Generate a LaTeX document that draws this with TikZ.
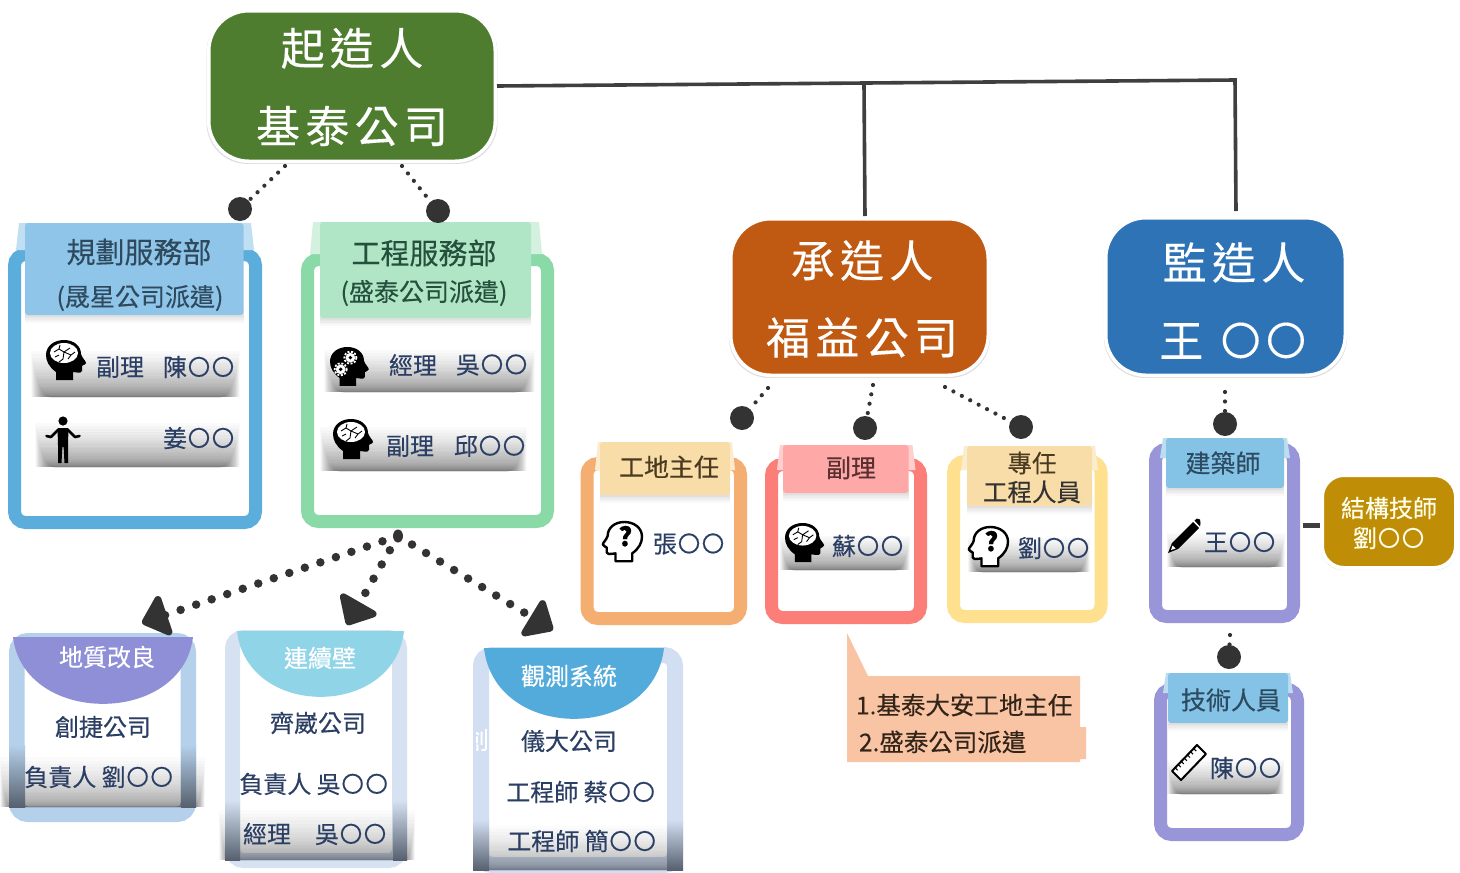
\documentclass[tikz,border=0pt]{standalone}
\usepackage{fontspec}
\setmainfont[FakeBold=0.3]{Noto Sans CJK TC}
\newfontfamily\spacedfont[LetterSpace=12,FakeBold=0.3]{Noto Sans CJK TC}
\usetikzlibrary{arrows.meta,shadows}
\definecolor{navytxt}{HTML}{2B3E63}
\definecolor{linegray}{HTML}{3F3F3F}
\definecolor{dotblack}{HTML}{333333}
\definecolor{HTMLgreen}{HTML}{4F7D2F}
\definecolor{HTMLorange}{HTML}{C05A12}
\definecolor{HTMLblue}{HTML}{2E73B5}
\definecolor{HTMLgold}{HTML}{BF8E06}
\definecolor{HTMLfa}{HTML}{5BAEDC}
\definecolor{HTMLfb}{HTML}{8ADAA8}
\definecolor{HTMLfc}{HTML}{F4AE72}
\definecolor{HTMLfd}{HTML}{FB7E78}
\definecolor{HTMLfe}{HTML}{FFE08F}
\definecolor{HTMLff}{HTML}{9896D8}
\definecolor{HTMLfh}{HTML}{B5D0EA}
\definecolor{HTMLfi}{HTML}{D6E2F2}
\definecolor{HTMLfj}{HTML}{D2DEF2}
\definecolor{HTMLta}{HTML}{8FC5E8}
\definecolor{HTMLtb}{HTML}{B0E6C6}
\definecolor{HTMLtc}{HTML}{F9DDA8}
\definecolor{HTMLtd}{HTML}{FFA8A8}
\definecolor{HTMLtf}{HTML}{84C2E6}
\definecolor{HTMLda}{HTML}{2F4A5F}
\definecolor{HTMLdb}{HTML}{25503C}
\definecolor{HTMLdc}{HTML}{4A3A20}
\definecolor{HTMLdd}{HTML}{5A3030}
\definecolor{HTMLdf}{HTML}{2C4A60}
\definecolor{HTMLdk}{HTML}{33241A}
\definecolor{HTMLcall}{HTML}{F8C4A4}
\definecolor{HTMLsh}{HTML}{56606E}
\definecolor{HTMLch}{HTML}{8F8FD8}
\definecolor{HTMLci}{HTML}{90D4E8}
\definecolor{HTMLcj}{HTML}{52ABDB}
\newcommand\fz[1]{\fontsize{#1}{#1}\selectfont}
\newcommand\Oo{\makebox[1em]{\raisebox{.03em}{\scalebox{.93}{〇}}}}
\newcommand\OoB{\makebox[1.03em]{\raisebox{.04em}{\scalebox{.9}{〇}}}}
\newcommand\dnB[2]{\vphantom{#2}\smash{\raisebox{-#1}{#2}}}
% frame: name x1 y1 x2 y2 colour width
\newcommand\frameB[7]{\node[draw=#6,fill=white,line width=#7pt,rounded corners=11pt,inner sep=0pt,
  minimum width={(#4-#2-#7)*1pt},minimum height={(#5-#3-#7)*1pt}] (#1) at ({(#2+#4)/2},{(#3+#5)/2}) {};}
% band: x1 x2 ybot height inset opacity
\newcommand\bandB[6]{\foreach \i in {0,...,39}{
  \pgfmathsetmacro\tp{#3-(#4)*(1-\i/40)*(1-\i/40)*(1-\i/40)}
  \fill[black,opacity=#6] ({#1+\i*#5},\tp) rectangle ({#2-\i*#5},#3);}}
% tab: name x1 x2 fx1 fx2 y1 y2 flapbottom colour
\newcommand\tabB[9]{\foreach \i in {1,...,5}{\fill[black,opacity=.025] (#2,#7-4) rectangle (#3,{#7+\i*1.6});}
  \fill[#9!55!white] (#4,#8) -- ({#4+3},#6) -- ({#5-3},#6) -- (#5,#8) -- cycle;
  \node[fill=#9,inner sep=0pt,rounded corners=3pt,minimum width={(#3-#2)*1pt},minimum height={(#7-#6)*1pt}] (#1) at ({(#2+#3)/2},{(#6+#7)/2}) {};}
% half disc
\newcommand\capB[5]{\fill[#5] (#1,#2) .. controls ({#1+.06*(#3-#1)},{#2+1.33*(#4-#2)}) and ({#3-.06*(#3-#1)},{#2+1.33*(#4-#2)}) .. (#3,#2) -- cycle;}
\newcommand\headpath{(10,40) -- (10,32) .. controls (3,27) and (0,21) .. (0,15) .. controls (0,6) and (8,0) .. (18,0) .. controls (28,0) and (35,6) .. (35,14) .. controls (36,18) and (40,21) .. (40,23) .. controls (40,25) and (36,25) .. (36,26) -- (36,31) .. controls (36,33) and (34,33) .. (27,32) -- (27,40) -- cycle}
\newcommand\brainhead[3]{\begin{scope}[shift={(#1,#2)},scale=#3]
  \fill[black] \headpath;
  \fill[white] (18,13) ellipse [x radius=14,y radius=10];
  \draw[black,line width=.9pt] (8,12) -- (13,9) -- (18,12) -- (24,8) (13,9) -- (14,5) (18,12) -- (17,19) -- (13,22) (18,12) -- (25,15) -- (29,12) (9,17) -- (13,15) (22,19) -- (25,15);
\end{scope}}
\newcommand\gearhead[3]{\begin{scope}[shift={(#1,#2)},scale=#3]
  \fill[black] \headpath;
  \foreach \cx/\cy/\r in {21/11/5,11/23/5}{
    \draw[white,line width=1.8pt,dash pattern=on 2pt off 1.6pt] (\cx,\cy) circle [radius=\r+1.2];
    \fill[white] (\cx,\cy) circle [radius=\r];
    \fill[black] (\cx,\cy) circle [radius=2];}
\end{scope}}
\newcommand\askhead[4]{\begin{scope}[shift={({#1+38},#2)},xscale=-#3,yscale=#3]
  \draw[black,line width=2.4pt,fill=white,line join=round] \headpath;
  \node[inner sep=0pt,font=\fz{26}\bfseries,text=black] (#4) at (17,14.5) {?};
\end{scope}}
\begin{document}
\begin{tikzpicture}[x=1pt,y=-1pt,
  mainbox/.style={draw=white,line width=3.5pt,rounded corners=40pt,inner sep=0pt,align=center,text=white,
    drop shadow={opacity=.26,shadow scale=1.015,shadow xshift=0pt,shadow yshift=-1.5pt}},
  lab/.style={inner sep=0pt,outer sep=0pt,text=navytxt,font=\fz{24}},
  hdr/.style={inner sep=0pt,outer sep=0pt,align=center},
  solidline/.style={draw=linegray,line width=3.6pt},
  dotline/.style={draw=dotblack,line width=4.2pt,line cap=round,dash pattern=on 0pt off 9.5pt},
  bigdot/.style={draw=dotblack,line width=8.5pt,line cap=round,dash pattern=on 0pt off 16.4pt,
    -{Triangle[length=28pt,width=48pt,fill=dotblack,round=false]}},
  ball/.style={circle,fill=dotblack,inner sep=0pt,minimum size=24pt}]
\useasboundingbox (0,0) rectangle (1460,873);
\fill[white] (0,0) rectangle (1460,873);

% ---------- main nodes
\node[mainbox,fill=HTMLgreen,minimum width=286.5pt,minimum height=150.5pt,
  font={\fontsize{44}{78}\selectfont\spacedfont}] (qi) at (352,86) {\dnB{1pt}{起造人}\\\dnB{1pt}{基泰公司}};
\node[mainbox,fill=HTMLorange,minimum width=257.5pt,minimum height=156.5pt,
  font={\fontsize{44}{77}\selectfont\spacedfont}] (cheng) at (859.5,297) {\hspace*{5pt}\dnB{2pt}{承造人}\\\hspace*{5pt}\dnB{2pt}{福益公司}};
\node[mainbox,fill=HTMLblue,minimum width=239.5pt,minimum height=157.5pt,
  font={\fontsize{44}{78}\selectfont\spacedfont}] (jian) at (1225.5,296.5) {\hspace*{17pt}\dnB{4pt}{監造人}\\\hspace*{17pt}\dnB{4pt}{王\,\,\OoB\OoB}};
\node[mainbox,fill=HTMLgold,rounded corners=22pt,line width=4pt,minimum width=134pt,minimum height=93pt,
  text=white!92!yellow,font={\fontsize{24}{30}\selectfont}] (jie) at (1389,521.5) {\dnB{1.5pt}{結構技師}\\\dnB{1.5pt}{劉\Oo\Oo}};

% ---------- solid connectors
\coordinate (busE) at (1235,80);
\coordinate (jianTop) at (1236,211);
\coordinate (busM) at (864,84.5);
\coordinate (chengTop) at (865,216);
\draw[solidline,line join=miter] (qi.east) -- (busE) -- (jianTop);
\draw[solidline] (busM) -- (chengTop);

% ---------- frames row 1
\frameB{fA}{8}{248}{262}{529}{HTMLfa}{13}
\frameB{fB}{301}{253}{554}{528}{HTMLfb}{13}
\bandB{31}{240}{397}{46}{.55}{.02}
\bandB{35}{240}{467}{44}{.55}{.02}
\bandB{324}{535}{392}{42}{.55}{.02}
\bandB{320}{527}{471}{44}{.55}{.02}
\tabB{tA}{25}{243.5}{16}{254}{223}{315}{250}{HTMLta}
\tabB{tB}{320}{531}{310}{542}{222}{318}{254}{HTMLtb}
\node[hdr,text=HTMLda,font=\fz{29}] (hA1) at (139,252) {規劃服務部};
\node[hdr,text=HTMLda,font=\fz{25}] (hA2) at (140,298) {(晟星公司派遣)};
\node[hdr,text=HTMLdb,font=\fz{29}] (hB1) at (424,253) {工程服務部};
\node[hdr,text=HTMLdb,font=\fz{25}] (hB2) at (424,293) {(盛泰公司派遣)};
\brainhead{46}{340}{1}
\node[lab] (l1) at (120,367) {副理};
\node[lab] (l2) at (199,367) {陳\Oo\Oo};
\node[lab] (l3) at (199,438) {姜\Oo\Oo};
\gearhead{330}{347}{.97}
\node[lab] (l4) at (413,365) {經理};
\node[lab] (l5) at (492,365) {吳\Oo\Oo};
\brainhead{333}{419}{1}
\node[lab] (l6) at (410,446) {副理};
\node[lab] (l7) at (490,446) {邱\Oo\Oo};
% person
\fill[black] (63,421) circle [radius=4.6];
\fill[black] (57.5,428) -- (68.5,428) -- (68,445) -- (68,463) -- (64.5,463) -- (63.6,447) -- (62.4,447) -- (61.5,463) -- (58,463) -- (58,445) -- cycle;
\draw[black,line width=2.6pt,line cap=round,line join=round] (46.5,436) -- (51,437) -- (58,430) (79.5,436) -- (75,437) -- (68,430);

% ---------- contractor frames
\frameB{fC}{580.5}{457}{747}{625}{HTMLfc}{13}
\frameB{fD}{765}{458}{927}{624}{HTMLfd}{13}
\frameB{fE}{947}{455}{1107.5}{623}{HTMLfe}{13}
\bandB{780}{910}{570}{34}{.4}{.02}
\bandB{968}{1090}{572}{34}{.4}{.02}
\tabB{tC}{600}{730}{595}{735}{442}{495}{470}{HTMLtc}
\tabB{tD}{783}{908.5}{777}{915.5}{445}{493}{470}{HTMLtd}
\tabB{tE}{967}{1092}{961}{1098}{446}{506}{470}{HTMLtc}
\node[hdr,text=HTMLdc,font=\fz{25}] (hC) at (669,467) {工地主任};
\node[hdr,text=HTMLdd,font=\fz{25}] (hD) at (851,468) {副理};
\node[hdr,text=HTMLdc,font=\fz{24.5}] (hE1) at (1032,463) {專任};
\node[hdr,text=black!80,font=\fz{24.5}] (hE2) at (1032,492) {工程人員};
\askhead{604}{522}{.98}{qa}
\node[lab] (l8) at (689,544) {張\Oo\Oo};
\brainhead{785}{523}{.98}
\node[lab] (l9) at (868,546) {蘇\Oo\Oo};
\askhead{970}{527}{.98}{qb}
\node[lab] (l10) at (1054,548) {劉\Oo\Oo};

% ---------- callout
\fill[HTMLcall] (847,633) -- (868,676) -- (1080,676) -- (1080,727) -- (1086,727) -- (1086,759) -- (1080,759) -- (1080,762) -- (847,762) -- cycle;
\node[hdr,anchor=west,text=HTMLdk,font=\fz{24.5}] (n1) at (856,705) {1.基泰大安工地主任};
\node[hdr,anchor=west,text=HTMLdk,font=\fz{24.5}] (n2) at (859,742) {2.盛泰公司派遣};

% ---------- supervisor frames
\frameB{fF}{1149}{443}{1300}{623}{HTMLff}{13}
\frameB{fG}{1154}{683}{1304}{841}{HTMLff}{13}
\bandB{1167}{1285}{567}{34}{.4}{.02}
\bandB{1167}{1284}{794}{34}{.4}{.02}
\tabB{tF}{1166}{1284}{1160}{1290}{438}{488}{458}{HTMLtf}
\tabB{tG}{1168}{1288}{1163}{1293}{673}{723}{693}{HTMLtf}
\node[hdr,text=HTMLdf,font=\fz{25}] (hF) at (1223,463) {建築師};
\node[hdr,text=HTMLdf,font=\fz{25}] (hG) at (1231,700) {技術人員};
\node[lab] (l11) at (1240,542) {王\Oo\Oo};
\node[lab] (l12) at (1246,768) {陳\Oo\Oo};
% pencil
\fill[black] (1168,553) -- (1172,543) -- (1193,522) -- (1199,528) -- (1178,549) -- cycle;
\fill[black] (1194.5,520.5) -- (1197,518.5) -- (1200,519.5) -- (1200.5,523) -- (1200,526.5) -- cycle;
\fill[white] (1171,550) -- (1172.5,545.5) -- (1175.5,548.5) -- cycle;
% ruler
\draw[black,line width=2pt,fill=white,line join=round] (1172,771) -- (1197,745) -- (1206,754) -- (1181,780) -- cycle;
\foreach \t in {1,...,7}{\draw[black,line width=1pt] ({1172+\t*3.1},{771-\t*3.2}) -- ({1174.5+\t*3.1},{773.5-\t*3.2});}

% ---------- sub-contractor frames
\frameB{fH}{9}{633}{196}{822}{HTMLfh}{15.5}
\frameB{fI}{225}{630}{407}{868}{HTMLfi}{15}
\frameB{fJ}{473}{647}{683}{873}{HTMLfj}{16}
\bandB{0}{205}{807}{50}{.3}{.014}
\shade[top color=HTMLfh,bottom color=HTMLsh] (9,745) rectangle (25,807);
\shade[top color=HTMLfh,bottom color=HTMLsh] (181,745) rectangle (196,807);
\bandB{219}{415}{860}{50}{.3}{.014}
\shade[top color=HTMLfi,bottom color=HTMLsh] (225,800) rectangle (240,860);
\shade[top color=HTMLfi,bottom color=HTMLsh] (393,800) rectangle (407,860);
\bandB{473}{683}{870}{44}{.3}{.014}
\shade[top color=HTMLfj,bottom color=HTMLsh] (473,820) rectangle (489,870);
\shade[top color=HTMLfj,bottom color=HTMLsh] (667,820) rectangle (683,870);
\capB{13}{637}{193}{704}{HTMLch}
\capB{237}{631}{404}{697}{HTMLci}
\capB{484}{648}{664}{719}{HTMLcj}
\node[hdr,text=white,font=\fz{24}] (hH) at (107,657) {地質改良};
\node[hdr,text=white,font=\fz{24}] (hI) at (320,658) {連續壁};
\node[hdr,text=white,font=\fz{24}] (hJ) at (569,676) {觀測系統};
\node[lab] (s1) at (103,727) {創捷公司};
\node[lab] (s2) at (99,777) {負責人 劉\Oo\Oo};
\node[lab] (s3) at (318,723) {齊崴公司};
\node[lab] (s4) at (314,784) {負責人 吳\Oo\Oo};
\node[lab] (s5) at (315,834) {經理\hspace{24pt}吳\Oo\Oo};
\node[lab] (s6) at (569,741) {儀大公司};
\node[lab] (s7) at (581,792) {工程師 蔡\Oo\Oo};
\node[lab] (s8) at (582,841) {工程師 簡\Oo\Oo};
\begin{scope}
  \clip (476,725) rectangle (489,752);
  \node[hdr,text=white,font=\fz{24}] (ghost) at (477,740) {創};
\end{scope}

% ---------- dotted connectors
\node[ball] (bA) at (240,209) {};
\node[ball] (bB) at (438,211) {};
\node[ball] (bC) at (742,418) {};
\node[ball] (bD) at (865,428) {};
\node[ball] (bE) at (1021,427) {};
\node[ball] (bF) at (1225,424) {};
\node[ball] (bG) at (1229,657) {};
\coordinate (qiL) at (285,166);
\coordinate (qiR) at (402,166);
\coordinate (chL) at (768,388);
\coordinate (chM) at (873,385);
\coordinate (chR) at (945,387);
\coordinate (jiD) at (1225,392);
\coordinate (fFd) at (1230,635);
\draw[dotline] (qiL) -- (bA);
\draw[dotline] (qiR) -- (bB);
\draw[dotline] (chL) -- (bC);
\draw[dotline] (chM) -- (bD);
\draw[dotline] (chR) -- (bE);
\draw[dotline] (jiD) -- (bF);
\draw[dotline] (fFd) -- (bG);
\coordinate (fFe) at (1303,525);
\coordinate (jieW) at (1320,525);
\draw[draw=linegray,line width=5pt] (fFe) -- (jieW);
% ---------- arrows from the engineering department
\coordinate (fBo) at (398,536);
\fill[dotblack] (fBo) ellipse [x radius=5,y radius=6.5];
\coordinate (aH) at (142,623);
\coordinate (aI) at (347,625);
\coordinate (aJ) at (553,630);
\draw[bigdot] (fBo) -- (aH);
\draw[bigdot] (fBo) -- (aI);
\draw[bigdot] (fBo) -- (aJ);
\end{tikzpicture}
\end{document}
